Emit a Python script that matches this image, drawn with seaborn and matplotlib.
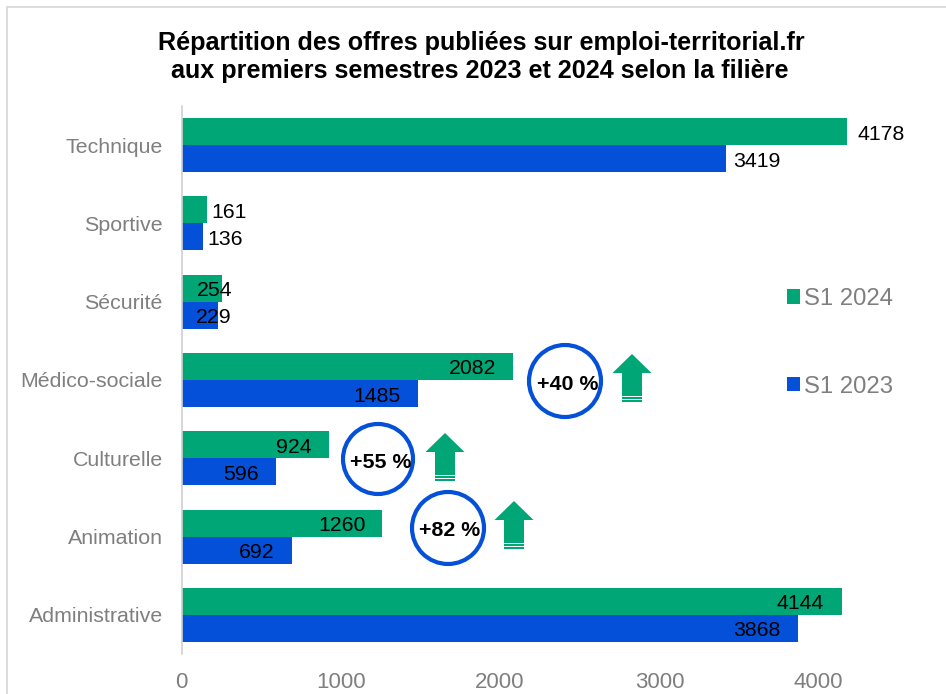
import pandas as pd
import seaborn as sns
import matplotlib.pyplot as plt
from matplotlib.lines import Line2D
from matplotlib.patches import Circle, Polygon
from matplotlib.transforms import Affine2D

filieres = ['Technique', 'Sportive', 'Sécurité', 'Médico-sociale', 'Culturelle', 'Animation', 'Administrative']
s1_2024 = [4178, 161, 254, 2082, 924, 1260, 4144]
s1_2023 = [3419, 136, 229, 1485, 596, 692, 3868]
x_ticks = [0, 1000, 2000, 3000, 4000]

# decalage des etiquettes par rapport au bout de la barre (pixels)
offsets_2024 = [34, 22, -7, -41, -35, -40, -41]
offsets_2023 = [31, 22, -4, -41, -35, -35, -41]

GREEN = '#00A676'
BLUE = '#0450D8'
W, H = 946, 694

sns.set_theme(style='white')
plt.rcParams['font.family'] = ['Liberation Sans', 'DejaVu Sans']

df = pd.DataFrame({
    'filiere': filieres * 2,
    'offres': s1_2024 + s1_2023,
    'semestre': ['S1 2024'] * len(filieres) + ['S1 2023'] * len(filieres),
})

fig = plt.figure(figsize=(W / 100, H / 100), dpi=100)
ax = fig.add_axes([181.5 / W, 1 - 654 / H, 718.4 / W, 548 / H])

sns.barplot(data=df, y='filiere', x='offres', hue='semestre', order=filieres,
            hue_order=['S1 2024', 'S1 2023'], palette=[GREEN, BLUE],
            orient='h', width=0.69, gap=0, saturation=1, linewidth=0, ax=ax)

ax.set_xlim(0, 4510)
ax.set_xticks(x_ticks)
ax.set_xlabel('')
ax.set_ylabel('')
ax.tick_params(axis='x', length=0, pad=13, labelsize=16, labelcolor='#7f7f7f')
ax.tick_params(axis='y', length=0, pad=13.5, labelsize=15.4, labelcolor='#7f7f7f')
sns.despine(ax=ax, top=True, right=True, bottom=True)
ax.spines['left'].set_color('#d0d0d0')
ax.spines['left'].set_linewidth(1.2)

# etiquettes de valeurs
for container, offs in zip(ax.containers, [offsets_2024, offsets_2023]):
    for bar, off in zip(container, offs):
        ax.annotate(f'{int(bar.get_width())}',
                    (bar.get_width(), bar.get_y() + bar.get_height() / 2),
                    xytext=(off, -2.5), textcoords='offset pixels',
                    ha='center', va='center', fontsize=15.3, color='black', zorder=5)

handles, labels = ax.get_legend_handles_labels()
ax.legend(handles, labels, loc='upper left', bbox_to_anchor=(787 / W, 1 - 288 / H),
          bbox_transform=fig.transFigure, frameon=False, fontsize=17.2, labelcolor='#7f7f7f',
          handlelength=0.55, handleheight=0.55, handletextpad=0.18, labelspacing=2.75,
          borderpad=0, borderaxespad=0)

# tout ce qui suit est place en pixels, origine en haut a gauche
px = Affine2D().scale(1, -1).translate(0, H)

fig.add_artist(Line2D([7, 7], [7, H], transform=px, color='#d9d9d9', lw=1.3))
fig.add_artist(Line2D([7, W], [7, 7], transform=px, color='#d9d9d9', lw=1.3))

fig.text(481, 43, 'Répartition des offres publiées sur emploi-territorial.fr', transform=px,
         ha='center', va='center', fontsize=18.1, fontweight='bold', color='black')
fig.text(479.5, 71, 'aux premiers semestres 2023 et 2024 selon la filière', transform=px,
         ha='center', va='center', fontsize=18.1, fontweight='bold', color='black')

# cercles et fleches
for cx, cy, r, txt, tx, ty in [(565, 381, 36, '+40 %', 567.5, 384),
                               (378, 459, 35, '+55 %', 380.5, 462),
                               (448, 528, 36, '+82 %', 449.5, 531)]:
    fig.add_artist(Circle((cx, cy), r, transform=px, fill=False, ec=BLUE, lw=3))
    fig.text(tx, ty, txt, transform=px, ha='center', va='center', fontsize=15.4,
             fontweight='bold', color='black', zorder=6)

for cx, top in [(632, 354), (445, 433), (514, 501)]:
    pts = [(cx, top), (cx + 19.5, top + 19), (cx + 10, top + 19), (cx + 10, top + 48),
           (cx - 10, top + 48), (cx - 10, top + 19), (cx - 19.5, top + 19)]
    fig.add_artist(Polygon(pts, closed=True, transform=px, fc=GREEN, ec='none'))
    for dy in (42, 45):
        fig.add_artist(Line2D([cx - 10, cx + 10], [top + dy, top + dy], transform=px,
                              color='white', lw=0.7, zorder=4))

fig.savefig('out.png', dpi=100)
